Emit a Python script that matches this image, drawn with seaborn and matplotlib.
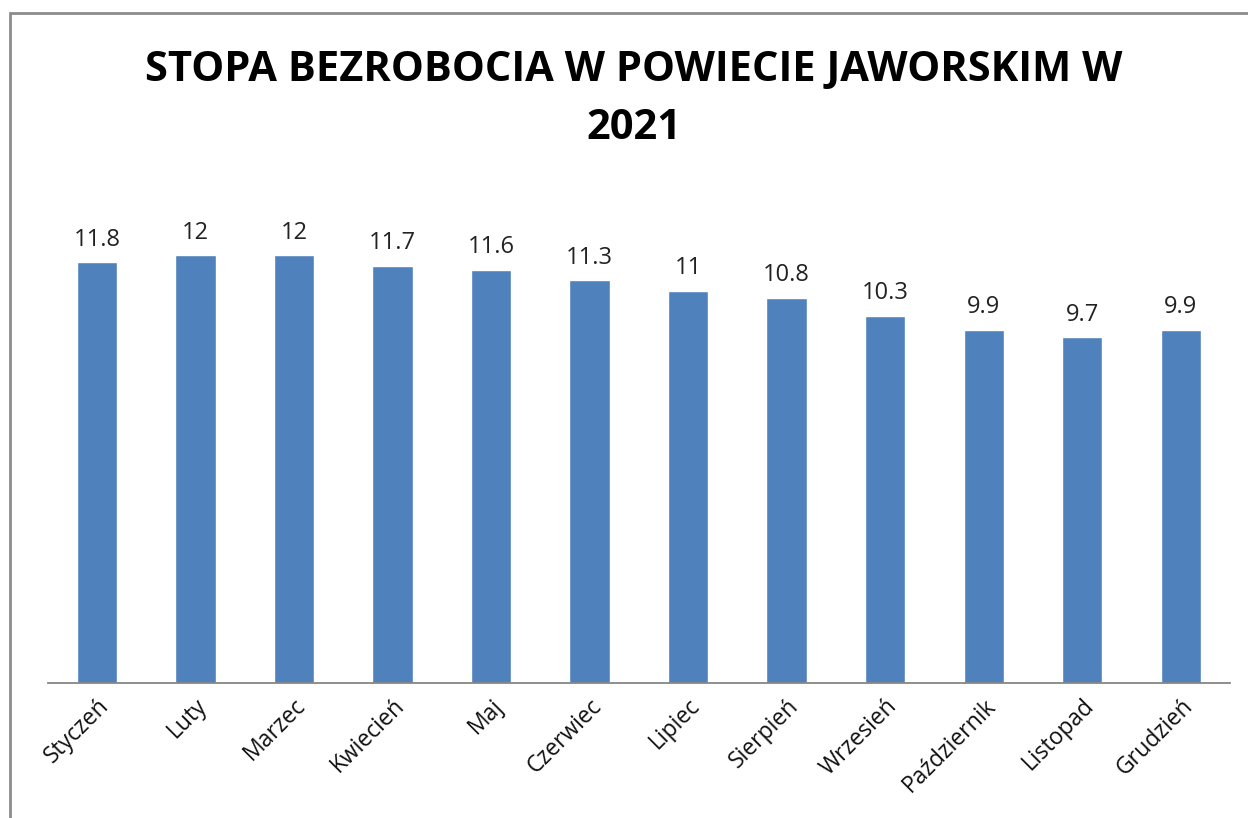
import matplotlib
matplotlib.use('Agg')
import matplotlib.pyplot as plt
import matplotlib.patches as patches
import pandas as pd
import seaborn as sns

# monthly unemployment rate (%)
months = ['Styczeń', 'Luty', 'Marzec', 'Kwiecień', 'Maj', 'Czerwiec', 'Lipiec',
          'Sierpień', 'Wrzesień', 'Październik', 'Listopad', 'Grudzień']
rates = [11.8, 12, 12, 11.7, 11.6, 11.3, 11, 10.8, 10.3, 9.9, 9.7, 9.9]
title = 'STOPA BEZROBOCIA W POWIECIE JAWORSKIM W\n2021'

df = pd.DataFrame({'Miesiąc': months, 'Stopa': rates})

sns.set_style('white')
plt.rcParams['font.family'] = ['Open Sans', 'DejaVu Sans']

fig = plt.figure(figsize=(12.48, 8.18), dpi=100)
ax = fig.add_axes([0.0382, 0.165, 0.9474, 0.61])

sns.barplot(x='Miesiąc', y='Stopa', data=df, color='#4F81BD', saturation=1,
            width=0.41, ax=ax)

# value labels above bars
for i, v in enumerate(rates):
    label = f'{v:g}'
    ax.text(i, v + 0.3, label, ha='center', va='bottom', fontsize=17, color='#222222')

ax.set_ylim(0, 14)
ax.set_xlim(-0.5, len(months) - 0.5)
ax.set_xlabel('')
ax.set_ylabel('')
ax.set_yticks([])
for side in ['top', 'right', 'left']:
    ax.spines[side].set_visible(False)
ax.spines['bottom'].set_color('#868686')
ax.spines['bottom'].set_linewidth(1.3)
ax.tick_params(axis='x', length=0, pad=8)
plt.setp(ax.get_xticklabels(), rotation=45, ha='right', rotation_mode='anchor',
         fontsize=16.5, color='#111111')

fig.text(0.508, 0.878, title, ha='center', va='center', fontsize=30,
         fontweight='bold', linespacing=1.55, color='black')

# outer chart frame
frame = patches.Rectangle((10 / 1248, -0.1), 1.05, (818 - 13) / 818 + 0.1,
                          transform=fig.transFigure, fill=False,
                          edgecolor='#8c8c8c', linewidth=2, clip_on=False)
fig.patches.append(frame)

fig.savefig('out.png', dpi=100)
